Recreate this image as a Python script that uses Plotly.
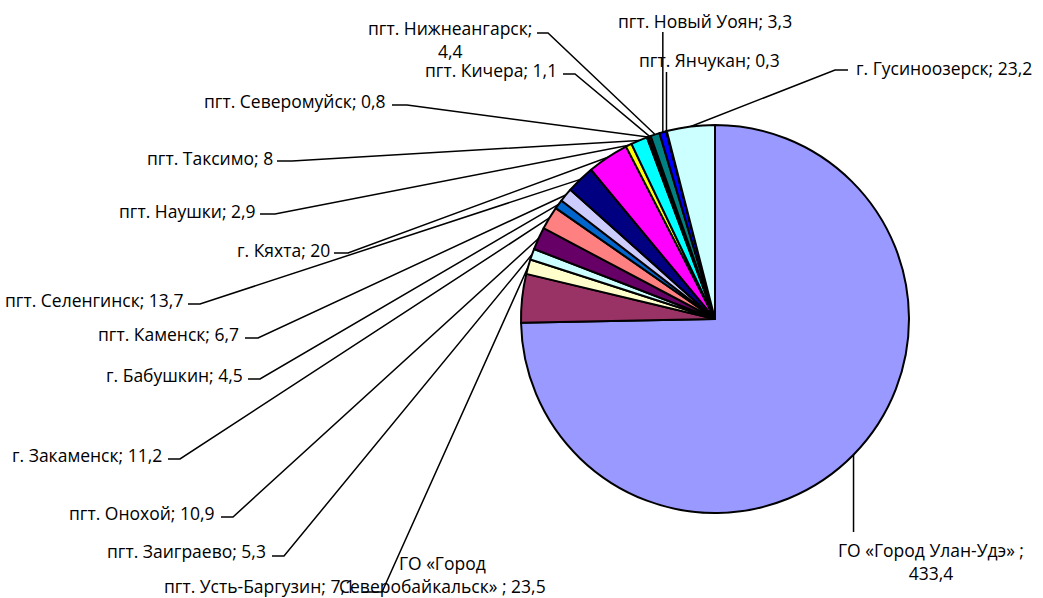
import math
import plotly.graph_objects as go

# Settlements and their values, in drawing order (clockwise from 12 o'clock)
names = [
    "ГО «Город Улан-Удэ» ",
    "ГО «Город Северобайкальск» ",
    "пгт. Усть-Баргузин",
    "пгт. Заиграево",
    "пгт. Онохой",
    "г. Закаменск",
    "г. Бабушкин",
    "пгт. Каменск",
    "пгт. Селенгинск",
    "г. Кяхта",
    "пгт. Наушки",
    "пгт. Таксимо",
    "пгт. Северомуйск",
    "пгт. Кичера",
    "пгт. Нижнеангарск",
    "пгт. Новый Уоян",
    "пгт. Янчукан",
    "г. Гусиноозерск",
]
values = [433.4, 23.5, 7.1, 5.3, 10.9, 11.2, 4.5, 6.7, 13.7, 20, 2.9, 8, 0.8, 1.1, 4.4, 3.3, 0.3, 23.2]

colors = [
    "#9999FF", "#993366", "#FFFFCC", "#CCFFFF", "#660066", "#FF8080",
    "#0066CC", "#CCCCFF", "#000080", "#FF00FF", "#FFFF00", "#00FFFF",
    "#800080", "#800000", "#008080", "#0000FF", "#00CCFF", "#CCFFFF",
]

W, H = 1043, 598
CX, CY, R = 715, 319, 194
FONT = dict(family="'Open Sans', Lato, sans-serif", size=17.5, color="#000000")

# Label placement (pixels): kind, text x, text y, wrap rule
#  left  -> text right edge at x, leader segment to its right
#  right -> text left edge at x, leader segment to its left
#  vert  -> text centred at x, vertical leader from slice down/up to line_y
#  none  -> no leader
placement = [
    dict(kind="vert", x=931, y=561, line_y=532, wrap="last"),
    dict(kind="none", x=442, y=574, wrap="first"),
    dict(kind="left", x=356, y=586, seg=(363, 382), seg_y=592),
    dict(kind="left", x=267, y=551, seg=(272, 284), seg_y=556),
    dict(kind="left", x=216, y=513, seg=(221, 233), seg_y=517),
    dict(kind="left", x=163, y=455, seg=(168, 180), seg_y=459),
    dict(kind="left", x=244, y=375, seg=(248, 260), seg_y=379),
    dict(kind="left", x=240, y=334, seg=(245, 258), seg_y=338),
    dict(kind="left", x=184, y=300, seg=(188, 200), seg_y=304),
    dict(kind="left", x=331, y=250, seg=(334, 348), seg_y=253),
    dict(kind="left", x=257, y=211, seg=(260, 275), seg_y=214),
    dict(kind="left", x=274, y=158, seg=(277, 292), seg_y=161),
    dict(kind="left", x=387, y=101, seg=(392, 407), seg_y=105),
    dict(kind="left", x=558, y=70, seg=(563, 575), seg_y=74),
    dict(kind="left", x=533, y=40, seg=(537, 548), seg_y=33, wrap="last"),
    dict(kind="vert", x=705, y=21, line_y=32),
    dict(kind="vert", x=709, y=60, line_y=72),
    dict(kind="right", x=855, y=68, seg=(835, 848), seg_y=70),
]


def fmt(v):
    return f"{v:g}".replace(".", ",")


def px(x, y):
    return x / W, 1 - y / H


total = sum(values)
fig = go.Figure(
    go.Pie(
        labels=names,
        values=values,
        sort=False,
        direction="clockwise",
        rotation=0,
        textinfo="none",
        hoverinfo="label+value",
        marker=dict(colors=colors, line=dict(color="#000000", width=2)),
        domain=dict(x=[(CX - R) / W, (CX + R) / W], y=[1 - (CY + R) / H, 1 - (CY - R) / H]),
        showlegend=False,
    )
)

shapes = []
annotations = []
cum = 0.0
for name, val, p in zip(names, values, placement):
    mid = (cum + val / 2) / total * 2 * math.pi
    cum += val
    ex = CX + R * math.sin(mid)
    ey = CY - R * math.cos(mid)

    text = f"{name}; {fmt(val)}"
    wrap = p.get("wrap")
    if wrap == "last":
        head, tail = text.rsplit(" ", 1)
        text = head + "<br>" + tail
    elif wrap == "first":
        parts = text.split(" ")
        text = " ".join(parts[:2]) + "<br>" + " ".join(parts[2:])

    kind = p["kind"]
    if kind == "left":
        xa = "right"
    elif kind == "right":
        xa = "left"
    else:
        xa = "center"
    ax, ay = px(p["x"], p["y"])
    annotations.append(dict(
        x=ax, y=ay, xref="paper", yref="paper", text=text, showarrow=False,
        xanchor=xa, yanchor="middle", align="center", font=FONT, borderpad=0,
    ))

    if kind == "left":
        pts = [(ex, ey), (p["seg"][1], p["seg_y"]), (p["seg"][0], p["seg_y"])]
    elif kind == "right":
        pts = [(ex, ey), (p["seg"][0], p["seg_y"]), (p["seg"][1], p["seg_y"])]
    elif kind == "vert":
        pts = [(ex, ey), (ex, p["line_y"])]
    else:
        pts = []
    if pts:
        path = "M " + " L ".join(f"{px(x, y)[0]:.5f},{px(x, y)[1]:.5f}" for x, y in pts)
        shapes.append(dict(type="path", xref="paper", yref="paper", path=path,
                           line=dict(color="#000000", width=1.5), layer="below"))

fig.update_layout(
    width=W, height=H,
    margin=dict(l=0, r=0, t=0, b=0),
    paper_bgcolor="#FFFFFF",
    plot_bgcolor="#FFFFFF",
    shapes=shapes,
    annotations=annotations,
    font=FONT,
)

fig.write_html("out.html")
